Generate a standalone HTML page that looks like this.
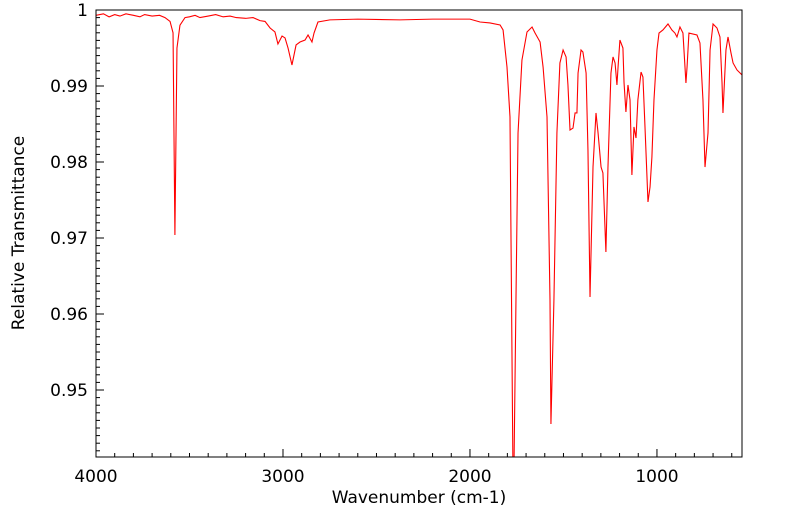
<!DOCTYPE html>
<html><head><meta charset="utf-8"><style>
html,body{margin:0;padding:0;background:#fff;}
svg{display:block;font-family:"DejaVu Sans","Liberation Sans",sans-serif;}
</style></head><body>
<svg id="chart" width="799" height="516"></svg>
<script>
const wavenumbers=[4000,3960,3930,3900,3872,3840,3800,3765,3740,3700,3660,3631,3604,3588,3578,3567,3551,3524,3500,3470,3444,3400,3360,3320,3283,3250,3200,3160,3123,3096,3069,3043,3027,3005,2989,2973,2952,2930,2909,2882,2866,2845,2834,2813,2749,2600,2374,2200,2000,1946,1893,1839,1823,1802,1786,1770,1765,1754,1743,1722,1695,1668,1652,1625,1609,1588,1572,1567,1551,1535,1519,1502,1486,1476,1465,1449,1438,1428,1422,1406,1396,1379,1369,1358,1342,1326,1315,1299,1289,1273,1262,1246,1235,1224,1214,1208,1198,1182,1176,1166,1155,1144,1134,1123,1112,1102,1085,1075,1064,1048,1037,1027,1016,1000,989,968,941,920,904,893,877,861,845,839,829,786,770,754,743,727,716,700,679,663,652,647,631,620,604,593,572,545];
const transmittance=[.9993,.9995,.9991,.9994,.9992,.9995,.9993,.9991,.9994,.9992,.9993,.9990,.9985,.9970,.9704,.9950,.9980,.9990,.9991,.9993,.9990,.9992,.9994,.9991,.9992,.9990,.9989,.9990,.9986,.9985,.99763,.99711,.99553,.99658,.99632,.9950,.99276,.9954,.99579,.99605,.99671,.99579,.99697,.99842,.9987,.9988,.9987,.9988,.9988,.99842,.9983,.99803,.99737,.9925,.98592,.9390,.9390,.96184,.98382,.99342,.99711,.99776,.99697,.99579,.9925,.98592,.96184,.94553,.96184,.98382,.99303,.99474,.99382,.99013,.98421,.98447,.98645,.98645,.99171,.99474,.99447,.99171,.98158,.96224,.97934,.98645,.98382,.97934,.97855,.96816,.97934,.99171,.99382,.99303,.99013,.9925,.99605,.995,.9904,.98658,.99013,.98816,.97829,.98461,.98316,.98816,.99184,.99118,.98461,.97474,.97671,.98066,.98816,.99474,.99697,.99737,.99816,.99737,.99697,.99645,.99776,.99697,.9904,.9925,.99697,.99671,.99566,.98816,.97934,.98382,.99474,.99816,.99763,.99645,.9904,.98645,.99474,.99645,.99434,.99303,.99211,.99145];
const xTicks=[4000,3000,2000,1000];
const yTicks=[1,0.99,0.98,0.97,0.96,0.95];
const yTickLabels=["1","0.99","0.98","0.97","0.96","0.95"];

const NS="http://www.w3.org/2000/svg";
const svg=document.getElementById('chart');
const L=96,R=742,T=10,B=457;
const xMax=4000,xMin=4000-(R-L)*5.348;
const yMax=1,yMin=1-(B-T)/7600;
const sx=v=>L+(xMax-v)/(xMax-xMin)*(R-L);
const sy=v=>T+(yMax-v)/(yMax-yMin)*(B-T);
function mk(tag,attrs){const e=document.createElementNS(NS,tag);for(const k in attrs)e.setAttribute(k,attrs[k]);svg.appendChild(e);return e;}

// clip
const defs=document.createElementNS(NS,'defs');
defs.innerHTML='<clipPath id="pc"><rect x="'+L+'" y="'+T+'" width="'+(R-L)+'" height="'+(B-T)+'"/></clipPath>';
svg.appendChild(defs);

// series
let d='';
wavenumbers.forEach((w,i)=>{d+=(i?'L':'M')+sx(w).toFixed(2)+','+sy(transmittance[i]).toFixed(2);});
const line=mk('path',{d:d,fill:'none',stroke:'#ff0000','stroke-width':1.1,'clip-path':'url(#pc)'});



// frame
const frame=mk('rect',{x:L,y:T,width:R-L,height:B-T,fill:'none',stroke:'#000','stroke-width':1});



// x ticks
for(let v=4000;v>=xMin;v-=100){
  const x=sx(v);const major=v%1000===0;
  const t=mk('line',{x1:x,x2:x,y1:B,y2:B-(major?8:4),stroke:'#000','stroke-width':1});
  
  
}
xTicks.forEach(v=>{
  const t=mk('text',{x:sx(v),y:B+25,'text-anchor':'middle','font-size':17,fill:'#000'});
  t.textContent=String(v);
  
  
});
// y ticks
for(let k=0;k<=60;k++){
  const v=1-k*0.001;if(v<yMin)break;
  const y=sy(v);const major=k%10===0;
  const t=mk('line',{x1:L,x2:L+(major?8:4),y1:y,y2:y,stroke:'#000','stroke-width':1});
  
  
}
yTicks.forEach((v,i)=>{
  const t=mk('text',{x:L-8,y:sy(v)+6,'text-anchor':'end','font-size':17,fill:'#000'});
  t.textContent=yTickLabels[i];
  
  
});
const xt=mk('text',{x:(L+R)/2,y:503,'text-anchor':'middle','font-size':17,fill:'#000'});
xt.textContent='Wavenumber (cm-1)';


const yt=mk('text',{x:0,y:0,'text-anchor':'middle','font-size':17,fill:'#000',transform:'translate(24,233) rotate(-90)'});
yt.textContent='Relative Transmittance';


</script>
</body></html>
